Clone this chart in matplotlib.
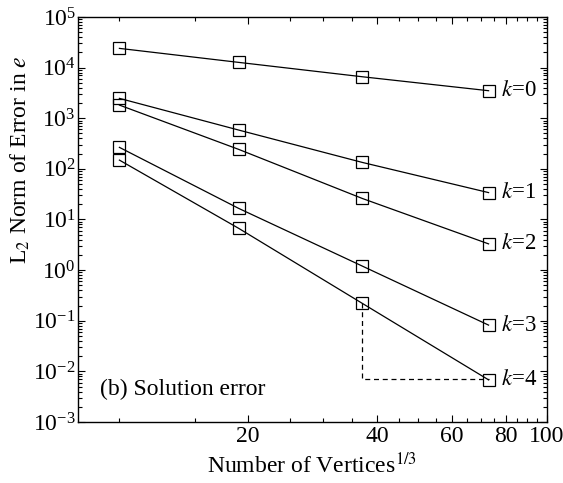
import matplotlib
matplotlib.use("Agg")
import matplotlib.pyplot as plt
from matplotlib.ticker import LogLocator, FixedLocator, FixedFormatter, NullFormatter
import numpy as np

plt.rcParams['font.family'] = ['Liberation Serif', 'DejaVu Serif']
plt.rcParams['mathtext.fontset'] = 'stix'

# number of vertices^(1/3)
verts = [10, 19, 37, 73]

# L2 error for each polynomial order k
err_k0 = [2.4e4, 1.27e4, 6.6e3, 3.5e3]
err_k1 = [2.47e3, 585, 134, 34]
err_k2 = [1.82e3, 243, 26, 3.3]
err_k3 = [266, 16.6, 1.2, 0.082]
err_k4 = [149, 6.7, 0.22, 0.0068]
series = [err_k0, err_k1, err_k2, err_k3, err_k4]
labels = ["0", "1", "2", "3", "4"]

# slope triangle (dashed)
tri_x = [37, 37, 73]
tri_y = [0.22, 0.0072, 0.0072]

xticks = [20, 40, 60, 80, 100]

fig = plt.figure(figsize=(5.63, 4.83), dpi=100)
ax = fig.add_axes([0.1385, 0.1263, 0.8331, 0.8385])

for ys, lab in zip(series, labels):
    ax.plot(verts, ys, color="black", lw=0.9, marker="s", markersize=8,
            markerfacecolor="none", markeredgecolor="black", markeredgewidth=0.9)
    ax.text(verts[-1] * 1.072, ys[-1], r"$k$=" + lab, fontsize=16.5,
            va="center", ha="left")

ax.plot(tri_x, tri_y, color="black", lw=0.9, ls=(0, (4, 3)))

ax.set_xscale("log")
ax.set_yscale("log")
ax.set_xlim(8, 100)
ax.set_ylim(1e-3, 1e5)

ax.xaxis.set_major_locator(FixedLocator(xticks))
ax.xaxis.set_minor_locator(FixedLocator(np.arange(10, 100, 5)))
ax.xaxis.set_major_formatter(FixedFormatter([str(t) for t in xticks]))
ax.xaxis.set_minor_formatter(NullFormatter())
ax.yaxis.set_major_locator(LogLocator(base=10, numticks=20))
ax.yaxis.set_minor_locator(LogLocator(base=10, subs=np.arange(2, 10), numticks=20))
ax.yaxis.set_minor_formatter(NullFormatter())

ax.tick_params(which="both", direction="in", top=True, right=True, labelsize=17)
ax.tick_params(which="major", length=5, width=0.8)
ax.tick_params(which="minor", length=3, width=0.8)
ax.tick_params(axis="x", which="major", pad=3)
ax.tick_params(axis="y", which="major", pad=1.5)

for s in ax.spines.values():
    s.set_linewidth(1.0)

ax.set_xlabel(r"Number of Vertices$^{1/3}$", fontsize=17)
ax.set_ylabel(r"L$_2$ Norm of Error in $e$", fontsize=17)
ax.xaxis.set_label_coords(0.5, -0.075)
ax.yaxis.set_label_coords(-0.098, 0.647)

ax.text(0.047, 0.067, "(b) Solution error", transform=ax.transAxes,
        fontsize=17, ha="left", va="baseline")

fig.savefig("out.png", dpi=100)
